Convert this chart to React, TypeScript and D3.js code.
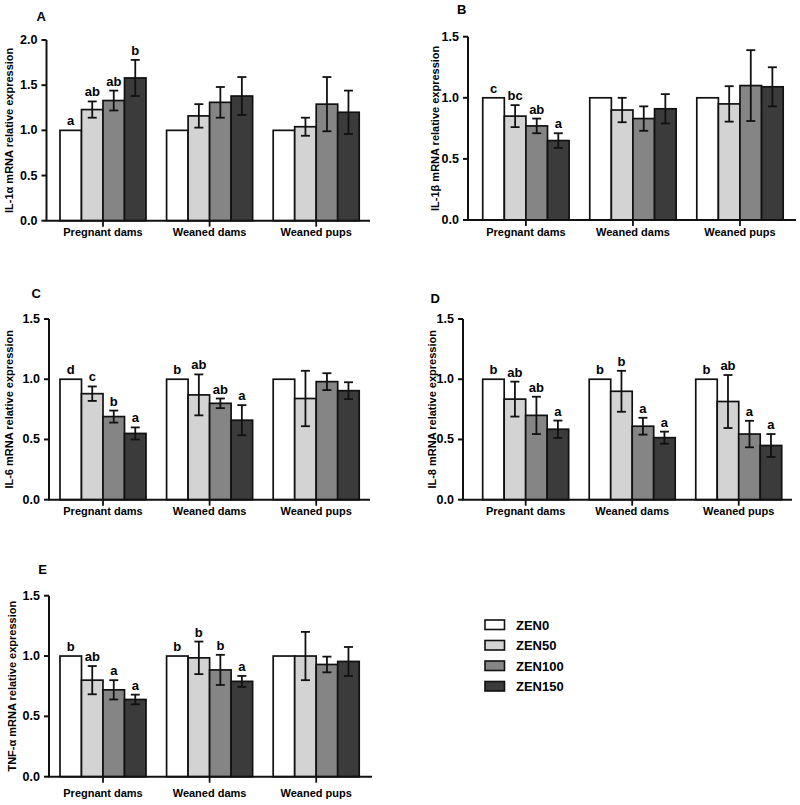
import React from "react";
import * as d3 from "d3";

const groups = ["Pregnant dams", "Weaned dams", "Weaned pups"];
const series = ["ZEN0", "ZEN50", "ZEN100", "ZEN150"];
const colors = ["#ffffff", "#d3d3d3", "#858585", "#3b3b3b"];

// Panel A: IL-1α
const aMeans = [[1.0, 1.23, 1.33, 1.58], [1.0, 1.16, 1.31, 1.38], [1.0, 1.04, 1.29, 1.2]];
const aErr = [[0, 0.09, 0.11, 0.2], [0, 0.13, 0.17, 0.21], [0, 0.1, 0.3, 0.24]];
const aLetters = [["a", "ab", "ab", "b"], [], []];

// Panel B: IL-1β
const bMeans = [[1.0, 0.85, 0.77, 0.65], [1.0, 0.9, 0.83, 0.91], [1.0, 0.95, 1.1, 1.09]];
const bErr = [[0, 0.09, 0.06, 0.06], [0, 0.1, 0.1, 0.12], [0, 0.145, 0.29, 0.16]];
const bLetters = [["c", "bc", "ab", "a"], [], []];

// Panel C: IL-6
const cMeans = [[1.0, 0.88, 0.69, 0.55], [1.0, 0.87, 0.8, 0.66], [1.0, 0.84, 0.98, 0.905]];
const cErr = [[0, 0.06, 0.05, 0.05], [0, 0.17, 0.04, 0.125], [0, 0.23, 0.07, 0.07]];
const cLetters = [["d", "c", "b", "a"], ["b", "ab", "ab", "a"], []];

// Panel D: IL-8
const dMeans = [[1.0, 0.835, 0.7, 0.585], [1.0, 0.9, 0.61, 0.515], [1.0, 0.815, 0.545, 0.45]];
const dErr = [[0, 0.145, 0.155, 0.072], [0, 0.17, 0.07, 0.05], [0, 0.22, 0.11, 0.095]];
const dLetters = [["b", "ab", "ab", "a"], ["b", "b", "a", "a"], ["b", "ab", "a", "a"]];

// Panel E: TNF-α
const eMeans = [[1.0, 0.8, 0.72, 0.64], [1.0, 0.985, 0.885, 0.79], [1.0, 1.0, 0.93, 0.955]];
const eErr = [[0, 0.117, 0.08, 0.04], [0, 0.135, 0.125, 0.045], [0, 0.2, 0.065, 0.12]];
const eLetters = [["b", "ab", "a", "a"], ["b", "b", "b", "a"], []];

const ticks2 = [0, 0.5, 1.0, 1.5, 2.0];
const ticks15 = [0, 0.5, 1.0, 1.5];

const FONT = "'Liberation Sans', Arial, Helvetica, sans-serif";

type PanelProps = {
  label: string;
  title: string;
  means: number[][];
  errs: number[][];
  letters: string[][];
  yMax: number;
  ticks: number[];
  axisX: number;
  axisEnd: number;
  yTop: number;
  yZero: number;
  bandStart: number;
  bandEnd: number;
  titleX: number;
  labelX: number;
  labelY: number;
  catDy: number;
};

function Panel(p: PanelProps) {
  const y = d3.scaleLinear().domain([0, p.yMax]).range([p.yZero, p.yTop]);
  const x0 = d3
    .scaleBand<string>()
    .domain(groups)
    .range([p.bandStart, p.bandEnd])
    .paddingInner(0.193)
    .paddingOuter(0.0965);
  const x1 = d3.scaleBand<string>().domain(series).range([0, x0.bandwidth()]);
  const bw = x1.bandwidth();
  const cap = 4.5;
  const titleY = (p.yZero + p.yTop) / 2;
  return (
    <g>
      <text x={p.labelX} y={p.labelY} fontFamily={FONT} fontWeight="bold" fontSize={13}>
        {p.label}
      </text>
      <text
        transform={`translate(${p.titleX},${titleY}) rotate(-90)`}
        textAnchor="middle"
        dominantBaseline="central"
        fontFamily={FONT}
        fontWeight="bold"
        fontSize={11}
      >
        {p.title}
      </text>
      {groups.map((g, gi) => (
        <g key={g}>
          {series.map((s, si) => {
            const m = p.means[gi][si];
            const e = p.errs[gi][si];
            const bx = (x0(g) as number) + (x1(s) as number);
            const cx = bx + bw / 2;
            const lt = p.letters[gi][si];
            return (
              <g key={s}>
                <rect
                  x={bx}
                  y={y(m)}
                  width={bw}
                  height={y(0) - y(m)}
                  fill={colors[si]}
                  stroke="#111"
                  strokeWidth={1.7}
                />
                {e > 0 && (
                  <g stroke="#111" strokeWidth={1.8}>
                    <line x1={cx} x2={cx} y1={y(m - e)} y2={y(m + e)} />
                    <line x1={cx - cap} x2={cx + cap} y1={y(m + e)} y2={y(m + e)} />
                    <line x1={cx - cap} x2={cx + cap} y1={y(m - e)} y2={y(m - e)} />
                  </g>
                )}
                {lt && (
                  <text
                    x={cx}
                    y={y(m + e) - 5}
                    textAnchor="middle"
                    fontFamily={FONT}
                    fontWeight="bold"
                    fontSize={13}
                  >
                    {lt}
                  </text>
                )}
              </g>
            );
          })}
          <line
            x1={(x0(g) as number) + x0.bandwidth() / 2}
            x2={(x0(g) as number) + x0.bandwidth() / 2}
            y1={p.yZero}
            y2={p.yZero + 6}
            stroke="#111"
            strokeWidth={1.8}
          />
          <text
            x={(x0(g) as number) + x0.bandwidth() / 2}
            y={p.yZero + p.catDy}
            textAnchor="middle"
            fontFamily={FONT}
            fontWeight="bold"
            fontSize={11}
          >
            {g}
          </text>
        </g>
      ))}
      {/* y axis */}
      <line x1={p.axisX} x2={p.axisX} y1={p.yTop} y2={p.yZero} stroke="#111" strokeWidth={2} />
      {p.ticks.map((t) => (
        <g key={t}>
          <line x1={p.axisX - 5} x2={p.axisX} y1={y(t)} y2={y(t)} stroke="#111" strokeWidth={2} />
          <text
            x={p.axisX - 9}
            y={y(t)}
            textAnchor="end"
            dominantBaseline="central"
            fontFamily={FONT}
            fontWeight="bold"
            fontSize={12.5}
          >
            {d3.format(".1f")(t)}
          </text>
        </g>
      ))}
      {/* x axis */}
      <line x1={p.axisX - 1} x2={p.axisEnd} y1={p.yZero} y2={p.yZero} stroke="#111" strokeWidth={2} />
    </g>
  );
}

export default function App() {
  const legendX = 485;
  const legendY = 620;
  const legendStep = 20.5;
  return (
    <svg
      width={800}
      height={805}
      style={{ position: "absolute", left: 0, top: 0, background: "#fff" }}
    >
      <rect width={800} height={805} fill="#fff" />
      <Panel
        label="A"
        title="IL-1α  mRNA relative expression"
        means={aMeans}
        errs={aErr}
        letters={aLetters}
        yMax={2.0}
        ticks={ticks2}
        axisX={46.5}
        axisEnd={370}
        yTop={40}
        yZero={220.7}
        bandStart={49.7}
        bandEnd={369.5}
        titleX={9}
        labelX={36.5}
        labelY={20.7}
        catDy={15.5}
      />
      <Panel
        label="B"
        title="IL-1β  mRNA relative expression"
        means={bMeans}
        errs={bErr}
        letters={bLetters}
        yMax={1.5}
        ticks={ticks15}
        axisX={468}
        axisEnd={796}
        yTop={36.7}
        yZero={220}
        bandStart={472.4}
        bandEnd={793.5}
        titleX={435}
        labelX={457}
        labelY={14}
        catDy={15.5}
      />
      <Panel
        label="C"
        title="IL-6 mRNA relative expression"
        means={cMeans}
        errs={cErr}
        letters={cLetters}
        yMax={1.5}
        ticks={ticks15}
        axisX={49}
        axisEnd={370}
        yTop={319}
        yZero={499.7}
        bandStart={49.7}
        bandEnd={369.5}
        titleX={9}
        labelX={31.5}
        labelY={298.3}
        catDy={15.5}
      />
      <Panel
        label="D"
        title="IL-8 mRNA relative expression"
        means={dMeans}
        errs={dErr}
        letters={dLetters}
        yMax={1.5}
        ticks={ticks15}
        axisX={463}
        axisEnd={792}
        yTop={319}
        yZero={499.7}
        bandStart={472.4}
        bandEnd={792}
        titleX={431.7}
        labelX={430.5}
        labelY={302.7}
        catDy={15.5}
      />
      <Panel
        label="E"
        title="TNF-α mRNA relative expression"
        means={eMeans}
        errs={eErr}
        letters={eLetters}
        yMax={1.5}
        ticks={ticks15}
        axisX={49}
        axisEnd={372}
        yTop={595.7}
        yZero={776.7}
        bandStart={49.7}
        bandEnd={369.5}
        titleX={12.3}
        labelX={38.3}
        labelY={574.3}
        catDy={20.5}
      />
      {series.map((s, i) => (
        <g key={s}>
          <rect
            x={legendX}
            y={legendY + i * legendStep}
            width={19.5}
            height={9.5}
            fill={colors[i]}
            stroke="#111"
            strokeWidth={1.6}
          />
          <text
            x={legendX + 31}
            y={legendY + i * legendStep + 9.5}
            fontFamily={FONT}
            fontWeight="bold"
            fontSize={13}
          >
            {s}
          </text>
        </g>
      ))}
    </svg>
  );
}
